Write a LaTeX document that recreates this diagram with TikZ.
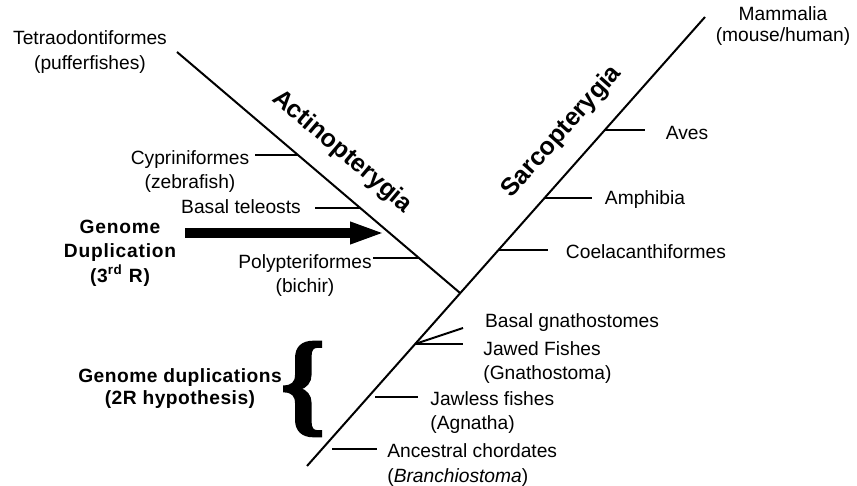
\documentclass[tikz,border=0pt]{standalone}
\usepackage{fontspec}
\setmainfont{Liberation Sans}
\newfontfamily\bracefont{Liberation Serif}[BoldFeatures={FakeBold=2}]
\usetikzlibrary{positioning,arrows.meta,calc}

\tikzset{
  taxon/.style={font=\fontsize{9.6}{12}\selectfont, align=center, inner sep=0pt},
  taxonL/.style={taxon, align=left, anchor=west},
  clade/.style={font=\fontsize{12.5}{14}\selectfont\bfseries, inner sep=0pt},
  event/.style={font=\fontsize{9.6}{12.2}\selectfont\bfseries\addfontfeature{LetterSpace=4}, align=center, inner sep=0pt},
  branch/.style={line width=1pt},
  dup/.style={line width=4.7pt, -{Triangle[length=17.5pt,width=10pt]}},
}

\begin{document}
\begin{tikzpicture}[x=0.5pt,y=-0.5pt]
\useasboundingbox (0,0) rectangle (857,486);
% backbone (chordates -> mammals) and the ray-finned branch
\coordinate (base) at (307,466);
\coordinate (crown) at (705,17);
\coordinate (pufftip) at (177,52);
\coordinate (split) at ($(base)!0.385!(crown)$);
\draw[branch] (base) -- (crown);
\draw[branch] (pufftip) -- (split);

% clade names along the two branches
\node[clade, rotate=-40.3] (actino) at (342,152) {Actinopterygia};
\node[clade, rotate=48.4] (sarco) at (562,132) {Sarcopterygia};

% tips
\node[taxon, font=\fontsize{9.6}{12.3}\selectfont] (tetra) at (90,52) {Tetraodontiformes\\(pufferfishes)};
\node[taxon, font=\fontsize{9.6}{10.5}\selectfont] (mammal) at (783,26) {Mammalia\\(mouse/human)};

% ray-finned side branches
\node[taxon] (cyp) at (190,172) {Cypriniformes\\(zebrafish)};
\node[taxon] (teleost) at (241,207) {Basal teleosts};
\node[taxon] (poly) at (305,276) {Polypteriformes\\(bichir)};
\coordinate (cypJ) at (298,155);  \coordinate (cypE) at (255,155);
\coordinate (telJ) at (360,208);  \coordinate (telE) at (315,208);
\coordinate (polJ) at (419,258);  \coordinate (polE) at (373,258);
\draw[branch] (cypJ) -- (cypE);
\draw[branch] (telJ) -- (telE);
\draw[branch] (polJ) -- (polE);

% lobe-finned side branches
\node[taxon] (aves) at (687,133) {Aves};
\node[taxon] (amph) at (645,200) {Amphibia};
\node[taxon] (coel) at (646,252) {Coelacanthiformes};
\coordinate (avesJ) at (605,130); \coordinate (avesE) at (645,130);
\coordinate (amphJ) at (545,198); \coordinate (amphE) at (592,198);
\coordinate (coelJ) at (499,250); \coordinate (coelE) at (548,250);
\draw[branch] (avesJ) -- (avesE);
\draw[branch] (amphJ) -- (amphE);
\draw[branch] (coelJ) -- (coelE);

% lower backbone
\node[taxon] (bgnath) at (572,323) {Basal gnathostomes};
\node[taxonL] (jawed) at (483,363) {Jawed Fishes\\(Gnathostoma)};
\node[taxonL] (jawless) at (430,413) {Jawless fishes\\(Agnatha)};
\node[taxonL, font=\fontsize{9.6}{12.5}\selectfont] (ancest) at (387,465) {Ancestral chordates\\(\textit{Branchiostoma})};
\coordinate (gnathJ) at (415,344);
\coordinate (gnathE) at (463,344); \coordinate (bgnathE) at (463,328);
\coordinate (jawJ) at (375,397);  \coordinate (jawE) at (418,397);
\coordinate (ancJ) at (332,449);  \coordinate (ancE) at (377,449);
\draw[branch] (gnathJ) -- (gnathE);
\draw[branch] (gnathJ) -- (bgnathE);
\draw[branch] (jawJ) -- (jawE);
\draw[branch] (ancJ) -- (ancE);

% duplication events
\node[event] (threeR) at (120,253) {Genome\\Duplication\\(3\textsuperscript{rd} R)};
\coordinate (dupS) at (185,233); \coordinate (dupT) at (385,233);
\draw[dup] (dupS) -- (dupT);
\node[event, font=\fontsize{9.6}{11}\selectfont\bfseries\addfontfeature{LetterSpace=2.5}] (twoR) at (180,389) {Genome duplications\\(2R hypothesis)};
\node[inner sep=0pt] (brace) at (303,389) {\bracefont\bfseries\fontsize{57}{57}\selectfont\{};
\end{tikzpicture}
\end{document}
